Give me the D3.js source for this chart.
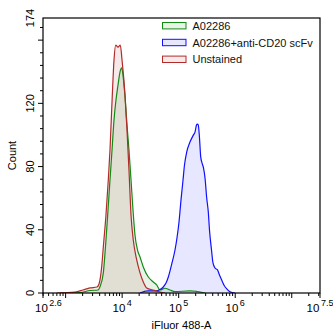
<!DOCTYPE html>
<html>
<head>
<meta charset="utf-8">
<script src="https://cdn.jsdelivr.net/npm/d3@7"></script>
<style>
  body { margin: 0; background: #fff; }
  text { font-family: Arial, "Liberation Sans", sans-serif; }
</style>
</head>
<body>
<svg id="chart" width="333" height="336"></svg>
<script>
// histogram data: log10(intensity) and event count
var unstainedLog = [2.848, 3.166, 3.308, 3.431, 3.555, 3.591, 3.638, 3.667, 3.714, 3.755, 3.785, 3.826, 3.856, 3.886, 3.927, 3.967, 3.998, 4.051, 4.086, 4.121, 4.157, 4.197, 4.258, 4.316, 4.374, 4.434, 4.546, 4.670, 4.758];
var unstainedCount = [0, 0.6, 1.9, 3.2, 3.8, 5.7, 16.5, 29.1, 49.4, 71.5, 90.5, 125.3, 147.4, 156.9, 155.6, 156.9, 147.4, 125.3, 103.1, 77.8, 49.4, 33.5, 20.9, 12.7, 7.0, 3.2, 1.9, 0.6, 0];

var a02286Log = [2.901, 3.255, 3.431, 3.573, 3.608, 3.667, 3.697, 3.714, 3.750, 3.785, 3.821, 3.856, 3.891, 3.927, 3.962, 3.992, 4.015, 4.051, 4.086, 4.121, 4.157, 4.192, 4.227, 4.272, 4.316, 4.374, 4.463, 4.551, 4.611, 4.670, 4.758, 4.847, 4.935, 5.200, 5.466];
var a02286Count = [0, 0.3, 1.6, 1.9, 4.0, 12.7, 25.3, 33.5, 52.5, 71.5, 90.5, 109.5, 122.1, 131.6, 139.8, 142.4, 137.9, 124.0, 106.3, 90.5, 71.5, 52.5, 36.7, 27.2, 22.8, 16.5, 10.1, 7.0, 5.1, 1.9, 3.0, 1.9, 0.9, 1.3, 0];

var scfvLog = [4.316, 4.457, 4.599, 4.670, 4.728, 4.776, 4.817, 4.877, 4.935, 4.970, 5.006, 5.041, 5.077, 5.103, 5.142, 5.200, 5.259, 5.289, 5.315, 5.329, 5.347, 5.365, 5.390, 5.413, 5.439, 5.466, 5.496, 5.524, 5.545, 5.581, 5.607, 5.643, 5.687, 5.722, 5.761, 5.811, 5.855, 5.908, 5.997];
var scfvCount = [0, 1.3, 1.3, 2.2, 3.8, 6.3, 10.1, 18.3, 27.2, 34.8, 44.9, 58.8, 71.5, 81.0, 89.2, 95.5, 99.9, 101.8, 106.3, 106.9, 106.3, 99.9, 86.1, 82.3, 79.1, 72.8, 60.1, 51.3, 39.9, 27.2, 19.0, 15.8, 14.6, 11.4, 8.2, 4.4, 2.5, 0.8, 0];

var seriesNames = ["A02286", "A02286+anti-CD20 scFv", "Unstained"];
var seriesLines = ["#138a13", "#1010ff", "#b22a2a"];
var seriesFills = ["#e8f3e8", "#e6e6fd", "#f6e9e8"];

var yTickLabels = [0, 40, 80, 120, 174];
var xTickExps = ["2.6", "4", "5", "6", "7.5"];

var svg = d3.select("#chart");
var pLeft = 43, pRight = 320, pTop = 18, pBottom = 293;

var x = d3.scaleLog().domain([Math.pow(10, 2.6), Math.pow(10, 7.5)]).range([pLeft, pRight]);
var y = d3.scaleLinear().domain([0, 174]).range([pBottom, pTop]);

svg.append("clipPath").attr("id", "clip")
  .append("rect").attr("x", pLeft).attr("y", pTop).attr("width", pRight - pLeft).attr("height", pBottom - pTop);

function pts(logs, counts) {
  return logs.map(function(l, i) { return { v: Math.pow(10, l), c: counts[i] }; });
}
var series = [pts(a02286Log, a02286Count), pts(scfvLog, scfvCount), pts(unstainedLog, unstainedCount)];

var area = d3.area().curve(d3.curveMonotoneX)
  .x(function(d) { return x(d.v); }).y0(y(0)).y1(function(d) { return y(d.c); });
var line = d3.line().curve(d3.curveMonotoneX)
  .x(function(d) { return x(d.v); }).y(function(d) { return y(d.c); });

var g = svg.append("g").attr("clip-path", "url(#clip)");
series.forEach(function(s, i) {
  g.append("path").attr("d", area(s)).attr("fill", seriesLines[i]).attr("fill-opacity", 0.1);
});
series.forEach(function(s, i) {
  g.append("path").attr("d", line(s)).attr("fill", "none")
    .attr("stroke", seriesLines[i]).attr("stroke-width", 1.2);
});

// frame
svg.append("rect").attr("x", pLeft).attr("y", pTop).attr("width", pRight - pLeft).attr("height", pBottom - pTop)
  .attr("fill", "none").attr("stroke", "#000").attr("stroke-width", 1.2);

// y ticks
d3.range(0, 174, 8).forEach(function(v) {
  var major = v % 40 === 0;
  svg.append("line").attr("x1", pLeft - (major ? 5 : 3)).attr("x2", pLeft)
    .attr("y1", y(v)).attr("y2", y(v)).attr("stroke", "#000");
});
yTickLabels.forEach(function(v) {
  svg.append("text").attr("transform", "translate(33.5," + y(v) + ") rotate(-90)")
    .attr("text-anchor", "middle").attr("font-size", 11).text(v);
});
svg.append("text").attr("transform", "translate(15.5," + ((pTop + pBottom) / 2) + ") rotate(-90)")
  .attr("text-anchor", "middle").attr("font-size", 11).text("Count");

// x ticks
var xMajor = [2.6, 3, 4, 5, 6, 7, 7.5];
xMajor.forEach(function(e) {
  var px = x(Math.pow(10, e));
  svg.append("line").attr("x1", px).attr("x2", px).attr("y1", pBottom).attr("y2", pBottom + 5).attr("stroke", "#000");
});
d3.range(2, 8).forEach(function(dec) {
  d3.range(2, 10).forEach(function(k) {
    var v = k * Math.pow(10, dec);
    if (v <= x.domain()[0] || v >= x.domain()[1]) return;
    var px = x(v);
    svg.append("line").attr("x1", px).attr("x2", px).attr("y1", pBottom).attr("y2", pBottom + 3).attr("stroke", "#000");
  });
});
xTickExps.forEach(function(e, i) {
  var px = x(Math.pow(10, +e));
  var t = svg.append("text").attr("y", 312).attr("font-size", 11.5)
    .attr("x", i === 0 ? px - 8 : px).attr("text-anchor", i === 0 ? "start" : "middle");
  t.append("tspan").text("10");
  t.append("tspan").attr("dx", 1.5).attr("dy", -6).attr("font-size", 9).text(e);
});
svg.append("text").attr("x", (pLeft + pRight) / 2).attr("y", 329).attr("text-anchor", "middle")
  .attr("font-size", 11).text("iFluor 488-A");

// legend
seriesNames.forEach(function(n, i) {
  var cy = 25.7 + i * 16.8;
  svg.append("rect").attr("x", 162.5).attr("y", cy - 3.2).attr("width", 23.5).attr("height", 6.4)
    .attr("fill", seriesFills[i]).attr("stroke", seriesLines[i]).attr("stroke-width", 1);
  svg.append("text").attr("x", 192.5).attr("y", cy + 4).attr("font-size", 11).attr("fill", "#111").text(n);
});
</script>
</body>
</html>
